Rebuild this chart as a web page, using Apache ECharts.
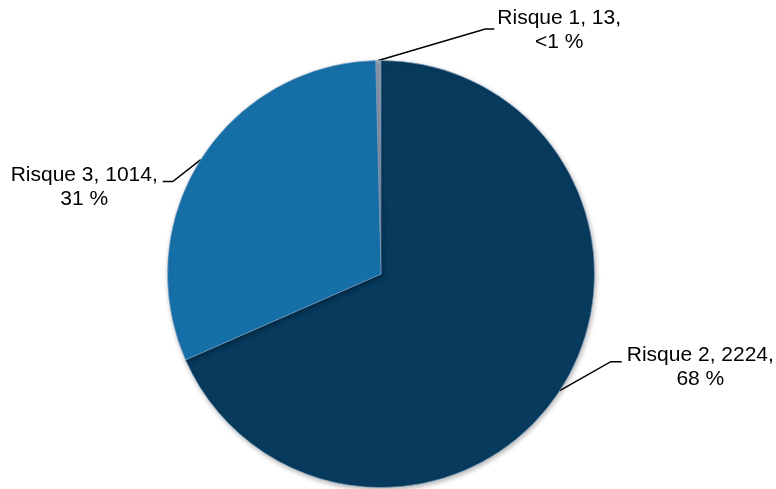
<!DOCTYPE html>
<html><head><meta charset="utf-8">
<script src="https://cdn.jsdelivr.net/npm/echarts@6/dist/echarts.min.js"></script>
<style>html,body{margin:0;padding:0;background:#fff}#c{width:776px;height:489px}</style>
</head><body><div id="c"></div>
<script>
const categories = ['Risque 1', 'Risque 2', 'Risque 3'];
const values = [13, 2224, 1014];
const colors = ['#a3b0c6', '#083a5d', '#1670a8'];

const total = values.reduce((a, b) => a + b, 0);
// leader line styling: elbow offset from the slice anchor, horizontal segment, gap to text
const leader = [
  { elbow: [107, -31.5], seg: 9, gap: 3, dy: 1.5 },
  { elbow: [51, -29], seg: 11, gap: 5, dy: 5 },
  { elbow: [-28, 22], seg: -10, gap: 5, dy: 6 }
];

const chart = echarts.init(document.getElementById('c'), null, { renderer: 'canvas' });
chart.setOption({
  animation: false,
  backgroundColor: '#fff',
  series: [{
    type: 'pie',
    center: [381, 274],
    radius: 213.5,
    startAngle: 90 + 360 * values[0] / total,
    clockwise: true,
    avoidLabelOverlap: false,
    emphasis: { disabled: true },
    data: categories.map((c, i) => ({ name: c, value: values[i], itemStyle: { color: colors[i] } })),
    itemStyle: {
      borderColor: 'rgba(140,175,210,0.55)',
      borderWidth: 1,
      shadowBlur: 5,
      shadowColor: 'rgba(0,0,0,0.3)',
      shadowOffsetX: 1,
      shadowOffsetY: 2
    },
    label: {
      show: true,
      position: 'outside',
      color: '#000',
      fontFamily: 'Liberation Sans, Arial, sans-serif',
      fontSize: 21,
      lineHeight: 24,
      formatter: p => p.name + ', ' + p.value + ',\n' + (p.percent < 1 ? '<1' : Math.round(p.percent)) + ' %'
    },
    labelLine: {
      show: true,
      length: 20,
      length2: 10,
      lineStyle: { color: '#000', width: 1.5 }
    },
    labelLayout: function (p) {
      const L = leader[p.dataIndex];
      const a = p.labelLinePoints[0];
      const e = [a[0] + L.elbow[0], a[1] + L.elbow[1]];
      const t = [e[0] + L.seg, e[1]];
      const dir = L.seg > 0 ? 1 : -1;
      const w = p.labelRect.width;
      return {
        x: t[0] + dir * (L.gap + w / 2),
        y: t[1] + L.dy,
        align: 'center',
        verticalAlign: 'middle',
        labelLinePoints: [a, e, t]
      };
    }
  }]
});
</script>
</body></html>
